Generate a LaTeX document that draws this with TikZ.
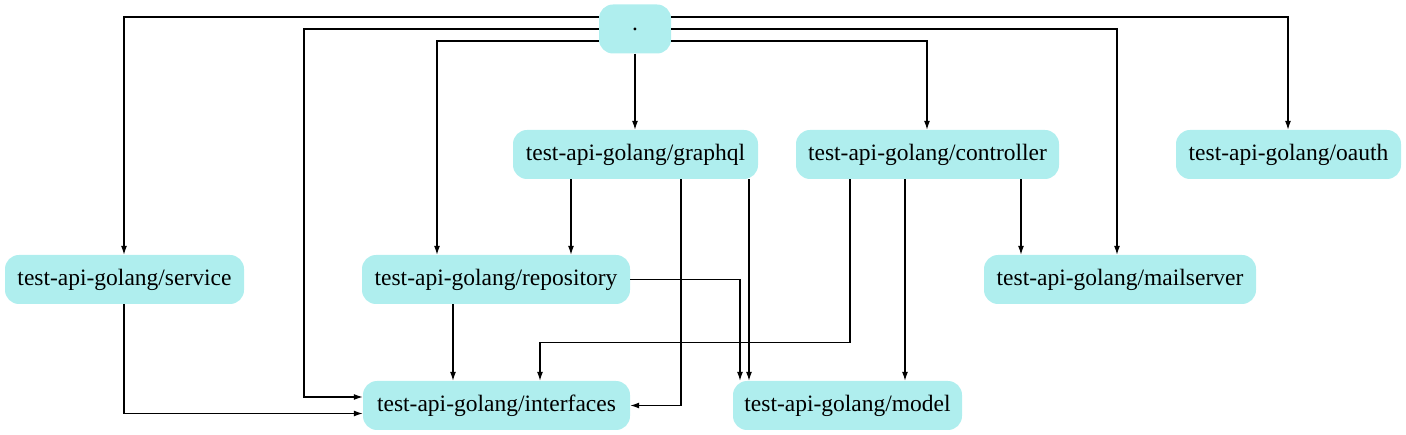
\documentclass[tikz,border=0pt]{standalone}
\usepackage{fontspec}
\setmainfont{Liberation Serif}
\usetikzlibrary{arrows.meta}
\definecolor{pkgfill}{HTML}{AFEEEE}
\tikzset{
  pkg/.style={draw=none, fill=pkgfill, rounded corners=14pt, minimum height=49pt,
    inner sep=0pt, font=\fontsize{23.5}{28}\selectfont, text=black},
  edge/.style={draw=black, line width=1.2pt, -{Latex[length=9pt,width=6pt]}}
}
\begin{document}
\begin{tikzpicture}[x=1pt,y=-1pt]
\useasboundingbox (0,0) rectangle (1406,435);
\node[pkg, minimum width=72pt] (root) at (635,29) {.};
\node[pkg, minimum width=245pt] (graphql) at (635.5,154.5) {test-api-golang/graphql};
\node[pkg, minimum width=263pt] (controller) at (927.5,154.5) {test-api-golang/controller};
\node[pkg, minimum width=225pt] (oauth) at (1288.5,154.5) {test-api-golang/oauth};
\node[pkg, minimum width=239pt] (service) at (124.5,279.5) {test-api-golang/service};
\node[pkg, minimum width=268pt] (repository) at (496,279.5) {test-api-golang/repository};
\node[pkg, minimum width=272pt] (mailserver) at (1120,279.5) {test-api-golang/mailserver};
\node[pkg, minimum width=267pt] (interfaces) at (496.5,405.5) {test-api-golang/interfaces};
\node[pkg, minimum width=229pt] (model) at (847.5,405.5) {test-api-golang/model};

% root edges
\draw[edge] ([yshift=12pt]root.west) -| (service.north -| 124,0);
\draw[edge] (root.west) -- (root.west -| 304,0) |- ([yshift=8.5pt]interfaces.west);
\draw[edge] ([yshift=-12pt]root.west) -| (repository.north -| 437,0);
\draw[edge] (root.south) -- (root.south |- graphql.north);
\draw[edge] ([yshift=-12pt]root.east) -| (controller.north -| 927,0);
\draw[edge] (root.east) -| (mailserver.north -| 1117,0);
\draw[edge] ([yshift=12pt]root.east) -| (oauth.north -| 1288,0);

% graphql edges
\draw[edge] (graphql.south -| 571,0) -- (repository.north -| 571,0);
\draw[edge] (graphql.south -| 681,0) |- (interfaces.east);
\draw[edge] (graphql.south -| 749,0) -- (model.north -| 749,0);

% controller edges
\draw[edge] (controller.south -| 850,0) -- ++(0,163) -| (interfaces.north -| 540,0);
\draw[edge] (controller.south -| 905,0) -- (model.north -| 905,0);
\draw[edge] (controller.south -| 1021,0) -- (mailserver.north -| 1021,0);

% repository edges
\draw[edge] (repository.south -| 453,0) -- (interfaces.north -| 453,0);
\draw[edge] (repository.east) -| (model.north -| 740,0);

% service edge
\draw[edge] (service.south -| 124,0) |- ([yshift=-8pt]interfaces.west);
\end{tikzpicture}
\end{document}
